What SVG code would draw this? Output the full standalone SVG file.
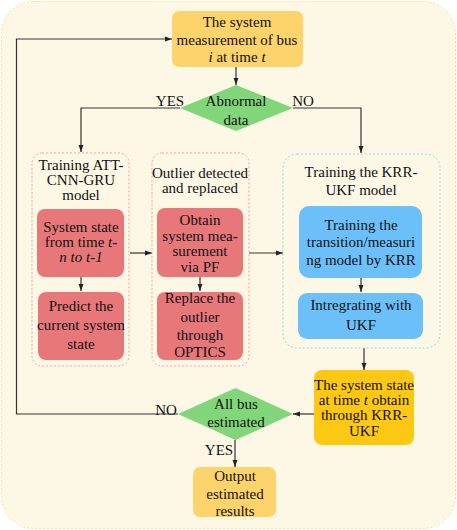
<svg xmlns="http://www.w3.org/2000/svg" width="457" height="530" viewBox="0 0 457 530">
<defs>
<marker id="ah" viewBox="0 0 10 10" refX="10" refY="5" markerWidth="7" markerHeight="7" orient="auto" markerUnits="userSpaceOnUse"><path d="M0,1.5 L10,5 L0,8.5 z" fill="#222"/></marker>
</defs>
<style>
.c{fill:none;stroke:#333;stroke-width:1.2}
.it{font-style:italic}
</style>
<rect x="1.5" y="1.5" width="454" height="527" rx="32" fill="#FDF8E6" stroke="#F6E08A" stroke-width="1" stroke-dasharray="2,2"/>
<g font-family="Liberation Serif" font-size="15" fill="#111" text-anchor="middle">
<g id="connectors">
<line class="c" x1="236" y1="67" x2="236" y2="85" marker-end="url(#ah)"/>
<polyline class="c" points="180,108 81,108 81,152" marker-end="url(#ah)"/>
<polyline class="c" points="293,108 361,108 361,153" marker-end="url(#ah)"/>
<line class="c" x1="81" y1="277" x2="81" y2="291" marker-end="url(#ah)"/>
<line class="c" x1="200" y1="277" x2="200" y2="291" marker-end="url(#ah)"/>
<line class="c" x1="361" y1="278" x2="361" y2="292" marker-end="url(#ah)"/>
<line class="c" x1="130" y1="253" x2="152" y2="253" marker-end="url(#ah)"/>
<line class="c" x1="249" y1="253" x2="283" y2="253" marker-end="url(#ah)"/>
<line class="c" x1="364" y1="348" x2="364" y2="370" marker-end="url(#ah)"/>
<line class="c" x1="314" y1="414" x2="293" y2="414" marker-end="url(#ah)"/>
<polyline class="c" points="178,414 16.5,414 16.5,39 172,39" marker-end="url(#ah)"/>
<line class="c" x1="235" y1="440" x2="235" y2="467" marker-end="url(#ah)"/>
<text x="170" y="106">YES</text>
<text x="303" y="106">NO</text>
<text x="166" y="415">NO</text>
<text x="219" y="455">YES</text>
</g>
<g id="start">
<rect x="172" y="11" width="131" height="56" rx="7" fill="#FDD36C"/>
<text x="237" y="27">The system</text>
<text x="237" y="45">measurement of bus</text>
<text x="237" y="62"><tspan class="it">i</tspan> at time <tspan class="it">t</tspan></text>
</g>
<g id="abnormal">
<polygon points="236,85 293,108 236,131 180,108" fill="#82D67A"/>
<text x="236" y="106">Abnormal</text>
<text x="236" y="125">data</text>
</g>
<g id="att-group">
<rect x="32" y="153" width="97" height="213" rx="10" fill="none" stroke="#F2A0A0" stroke-width="1" stroke-dasharray="2,2"/>
<text x="81" y="170">Training ATT-</text>
<text x="81" y="185">CNN-GRU</text>
<text x="81" y="200">model</text>
</g>
<g id="system-state">
<rect x="37" y="209" width="87" height="68" rx="8" fill="#E8777A"/>
<text x="81" y="232">System state</text>
<text x="81" y="247">from time <tspan class="it">t-</tspan></text>
<text x="81" y="262" class="it">n to t-1</text>
</g>
<g id="predict">
<rect x="38" y="292" width="86" height="68" rx="8" fill="#E8777A"/>
<text x="81" y="311">Predict the</text>
<text x="81" y="330">current system</text>
<text x="81" y="349">state</text>
</g>
<g id="outlier-group">
<rect x="152" y="153" width="97" height="213" rx="10" fill="none" stroke="#F2A0A0" stroke-width="1" stroke-dasharray="2,2"/>
<text x="200" y="178">Outlier detected</text>
<text x="200" y="193">and replaced</text>
</g>
<g id="obtain">
<rect x="157" y="208" width="86" height="69" rx="8" fill="#E8777A"/>
<text x="200" y="225">Obtain</text>
<text x="200" y="241">system mea-</text>
<text x="200" y="256">surement</text>
<text x="200" y="272">via  PF</text>
</g>
<g id="replace">
<rect x="157" y="292" width="86" height="68" rx="8" fill="#E8777A"/>
<text x="200" y="303">Replace the</text>
<text x="200" y="322">outlier</text>
<text x="200" y="340">through</text>
<text x="200" y="357">OPTICS</text>
</g>
<g id="krr-group">
<rect x="283" y="154" width="157" height="194" rx="14" fill="none" stroke="#9FD3E0" stroke-width="1" stroke-dasharray="2,2"/>
<text x="361" y="177">Training the KRR-</text>
<text x="361" y="195">UKF model</text>
</g>
<g id="train-krr">
<rect x="299" y="206" width="123" height="72" rx="10" fill="#6CC0F9"/>
<text x="361" y="230">Training the</text>
<text x="361" y="247">transition/measuri</text>
<text x="361" y="265">ng model by KRR</text>
</g>
<g id="ukf">
<rect x="298" y="293" width="125" height="46" rx="9" fill="#6CC0F9"/>
<text x="361" y="310">Intregrating with</text>
<text x="361" y="330">UKF</text>
</g>
<g id="state-t">
<rect x="314" y="370" width="100" height="75" rx="8" fill="#FDC814"/>
<text x="364" y="390">The system state</text>
<text x="364" y="405">at time <tspan class="it">t</tspan> obtain</text>
<text x="364" y="420">through KRR-</text>
<text x="364" y="436">UKF</text>
</g>
<g id="all-bus">
<polygon points="235.5,388 293,414 235.5,440 178,414" fill="#82D67A"/>
<text x="236" y="409">All bus</text>
<text x="236" y="427">estimated</text>
</g>
<g id="output">
<rect x="193" y="467" width="83" height="50" rx="7" fill="#FDD36C"/>
<text x="235" y="481">Output</text>
<text x="235" y="499">estimated</text>
<text x="235" y="516">results</text>
</g>
</g>
</svg>
